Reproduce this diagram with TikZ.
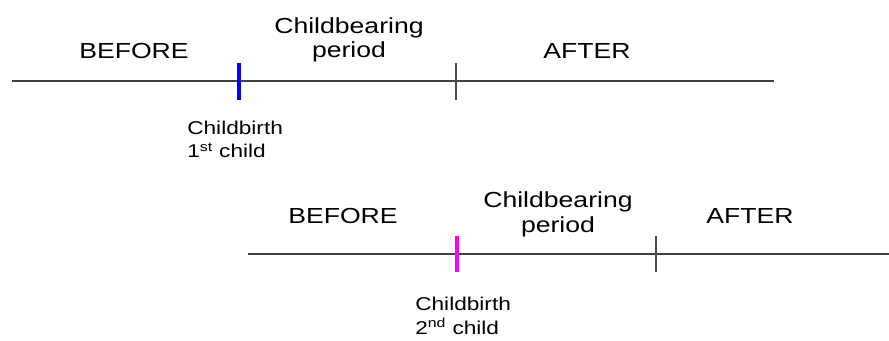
\documentclass[tikz,border=0pt]{standalone}
\usepackage{fontspec}
\setmainfont[FakeStretch=1.22]{Liberation Sans}
\usetikzlibrary{
    positioning,
    calc
}
\definecolor{birthblue}{RGB}{0,0,255}
\definecolor{birthpink}{RGB}{255,0,255}
\tikzset{
  phase/.style = {
      font=\fontsize{15.5}{17.7}\selectfont,
      anchor=base,
      align=center,
      inner sep=0pt
  },
  note/.style = {
      font=\fontsize{13.2}{17}\selectfont,
      anchor=base west,
      align=left,
      inner sep=0pt
  },
  timeline/.style = {
      draw=black!75,
      line width=0.9pt
  },
  bound/.style = {
      draw=black!70,
      line width=0.9pt
  },
  birth/.style = {
      line width=3.3pt
  }
}

\begin{document}
\begin{tikzpicture}[x=0.025cm, y=-0.025cm]
        \useasboundingbox (0,0) rectangle (889,341);
        % First child
        \coordinate (start1) at (12,81);
        \coordinate (end1) at (774,81);
        \coordinate (birth1 top) at (239,63);
        \coordinate (birth1 bottom) at (239,100);
        \coordinate (bound1 top) at (456,63);
        \coordinate (bound1 bottom) at (456,100);
        \node[phase] (before1) at (134,59) {BEFORE};
        \node[phase] (period1) at (349,58) {Childbearing\\period};
        \node[phase] (after1) at (587,59) {AFTER};
        \node[note] (child1) at (187,158) {Childbirth\\1\textsuperscript{st} child};
        % Second child
        \coordinate (start2) at (248,254);
        \coordinate (end2) at (889,254);
        \coordinate (birth2 top) at (457,236);
        \coordinate (birth2 bottom) at (457,272);
        \coordinate (bound2 top) at (656,236);
        \coordinate (bound2 bottom) at (656,272);
        \node[phase] (before2) at (343,223) {BEFORE};
        \node[phase] (period2) at (558,232) {Childbearing\\period};
        \node[phase] (after2) at (750,223) {AFTER};
        \node[note] (child2) at (415,334) {Childbirth\\2\textsuperscript{nd} child};
        % Lines
        \path[timeline]
        (start1) -- (end1)
        (start2) -- (end2);
        \path[bound]
        (bound1 top) -- (bound1 bottom)
        (bound2 top) -- (bound2 bottom);
        \draw[birth, birthblue] (birth1 top) -- (birth1 bottom);
        \draw[birth, birthpink] (birth2 top) -- (birth2 bottom);
    \end{tikzpicture}
\end{document}
